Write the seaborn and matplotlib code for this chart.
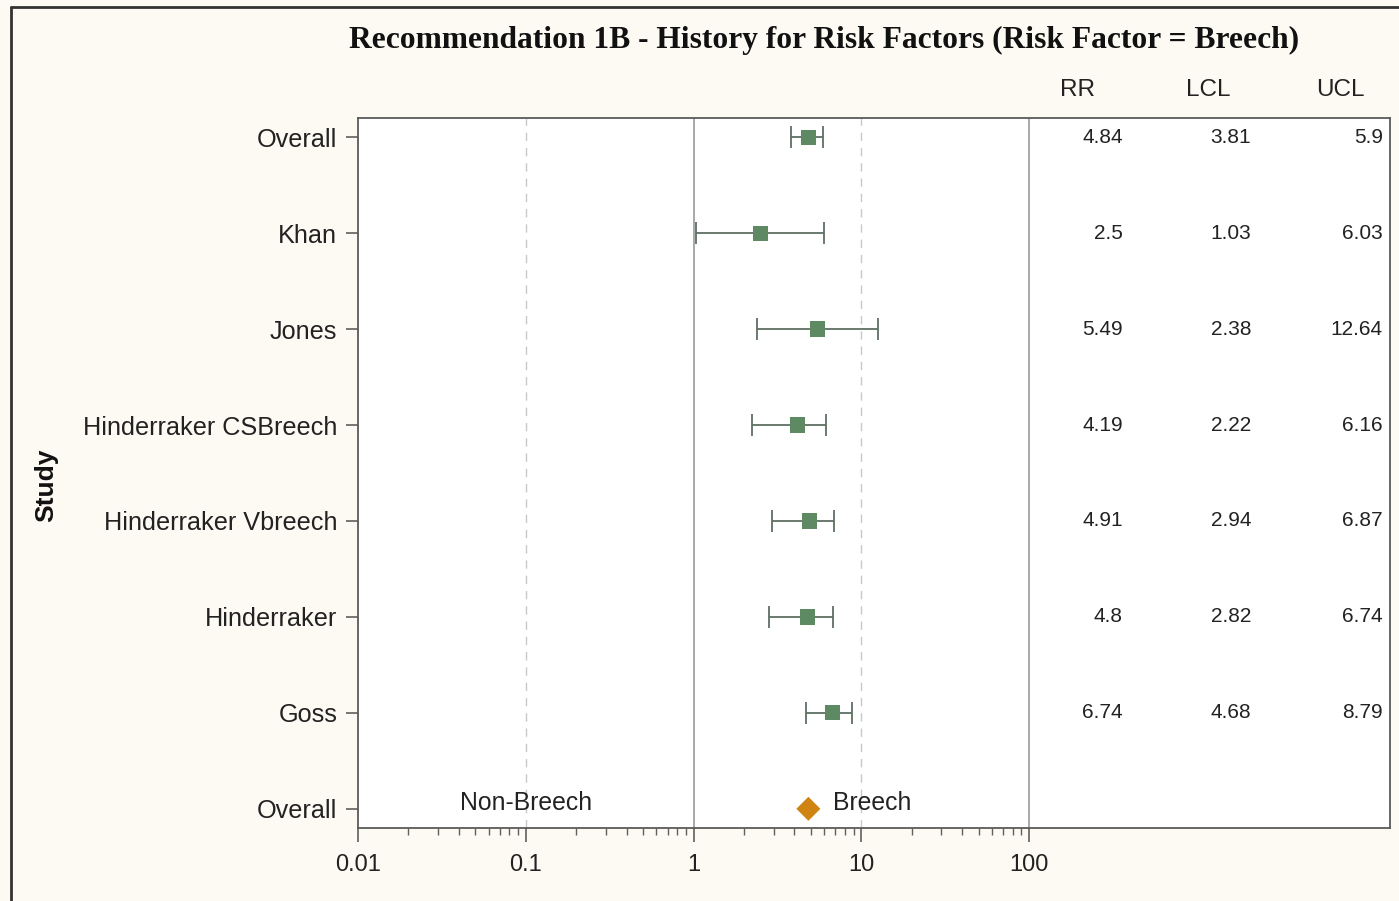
import numpy as np
import pandas as pd
import matplotlib
matplotlib.use("Agg")
import matplotlib.pyplot as plt
from matplotlib.lines import Line2D
from matplotlib.ticker import FixedLocator, NullFormatter
import seaborn as sns

# Study-level risk ratios with 95% confidence limits
studies = ["Overall", "Khan", "Jones", "Hinderraker CSBreech",
           "Hinderraker Vbreech", "Hinderraker", "Goss"]
rr = [4.84, 2.5, 5.49, 4.19, 4.91, 4.8, 6.74]
lcl = [3.81, 1.03, 2.38, 2.22, 2.94, 2.82, 4.68]
ucl = [5.9, 6.03, 12.64, 6.16, 6.87, 6.74, 8.79]
rr_text = ["4.84", "2.5", "5.49", "4.19", "4.91", "4.8", "6.74"]
lcl_text = ["3.81", "1.03", "2.38", "2.22", "2.94", "2.82", "4.68"]
ucl_text = ["5.9", "6.03", "12.64", "6.16", "6.87", "6.74", "8.79"]

summary_label = "Overall"
summary_rr = 4.84
x_ticks = [0.01, 0.1, 1, 10, 100]
x_tick_labels = ["0.01", "0.1", "1", "10", "100"]
col_headers = ["RR", "LCL", "UCL"]

BG = "#fdfaf3"
sns.set_theme(style="white")
plt.rcParams["font.family"] = ["Liberation Sans", "DejaVu Sans"]

df = pd.DataFrame({"study": studies, "rr": rr, "lcl": lcl, "ucl": ucl,
                   "pos": np.arange(len(studies))})

fig = plt.figure(figsize=(13.99, 9.01), dpi=100, facecolor=BG)
ax = fig.add_axes([358 / 1399, 1 - 828 / 901, (1390 - 358) / 1399, (828 - 118) / 901])
ax.set_facecolor("white")
ax.set_xscale("log")
ax.set_xlim(0.01, 10 ** ((1390 - 358) / 167.75 - 2))
ax.set_ylim(len(studies) + 0.2, -0.2)

# reference lines
for v in [1, 100]:
    ax.axvline(v, color="#9a9a9a", lw=1.2, zorder=1)
for v in [0.1, 10]:
    ax.axvline(v, color="#c8c8c8", lw=1.0, ls=(0, (6, 5)), zorder=1)

# confidence intervals
ax.errorbar(df["rr"], df["pos"],
            xerr=[df["rr"] - df["lcl"], df["ucl"] - df["rr"]],
            fmt="none", ecolor="#5f6f62", elinewidth=1.3,
            capsize=8, capthick=1.3, zorder=2)
sns.scatterplot(data=df, x="rr", y="pos", marker="s", s=120,
                color="#5d8a62", edgecolor="none", ax=ax, zorder=3, legend=False)

# pooled estimate row
summary = pd.DataFrame({"rr": [summary_rr], "pos": [len(studies)]})
sns.scatterplot(data=summary, x="rr", y="pos", marker="D", s=150,
                color="#cf8412", edgecolor="none", ax=ax, zorder=3, legend=False)
ax.text(0.1, len(studies) - 0.06, "Non-Breech", ha="center", va="center",
        fontsize=17.8, color="#222222")
ax.annotate("Breech", (summary_rr, len(studies) - 0.06), xytext=(18, 0),
            textcoords="offset points", ha="left", va="center",
            fontsize=17.8, color="#222222")

# y axis
ax.set_yticks(np.arange(len(studies) + 1))
ax.set_yticklabels(studies + [summary_label], fontsize=18.2, color="#222222")
ax.set_ylabel("Study", fontsize=19, fontweight="bold", color="#111111")
ax.yaxis.set_label_coords(-(358 - 58) / 1032, (828 - 485) / 710)

# x axis
ax.xaxis.set_major_locator(FixedLocator(x_ticks))
ax.set_xticklabels(x_tick_labels, fontsize=17, color="#222222")
minor = [m * 10.0 ** e for e in range(-2, 2) for m in range(2, 10)]
ax.xaxis.set_minor_locator(FixedLocator(minor))
ax.xaxis.set_minor_formatter(NullFormatter())
ax.tick_params(axis="x", which="major", direction="out", length=10, width=1.2,
               color="#606060", bottom=True, pad=9)
ax.tick_params(axis="x", which="minor", direction="out", length=5, width=1.0,
               color="#606060", bottom=True)
ax.tick_params(axis="y", which="major", direction="out", length=9, width=1.2,
               color="#606060", left=True, pad=6)
ax.set_xlabel("")

for sp in ax.spines.values():
    sp.set_color("#5a5a5a")
    sp.set_linewidth(1.3)
    sp.set_visible(True)

# statistics table on the right
col_right = [(1123 - 358) / 1032, (1251 - 358) / 1032, (1383 - 358) / 1032]
col_head = [(1077 - 358) / 1032, (1208 - 358) / 1032, (1340 - 358) / 1032]
trans_x = matplotlib.transforms.blended_transform_factory(ax.transAxes, ax.transData)
for xr, values in zip(col_right, [rr_text, lcl_text, ucl_text]):
    for i, t in enumerate(values):
        ax.text(xr, i, t, transform=trans_x, ha="right", va="center",
                fontsize=15, color="#222222")
for xh, h in zip(col_head, col_headers):
    ax.text(xh, (828 - 90) / 710, h, transform=ax.transAxes, ha="center",
            va="center", fontsize=17.5, color="#222222", clip_on=False)

fig.text(824 / 1399, 1 - 40 / 901,
         "Recommendation 1B - History for Risk Factors (Risk Factor = Breech)",
         ha="center", va="center", fontsize=22.7, fontweight="bold",
         family=["Liberation Serif", "DejaVu Serif"], color="#111111")

# outer frame of the graph
fig.add_artist(Line2D([10.5 / 1399, 10.5 / 1399], [0, 1 - 7 / 901],
                      transform=fig.transFigure, color="#333333", lw=2))
fig.add_artist(Line2D([10.5 / 1399, 1], [1 - 7 / 901, 1 - 7 / 901],
                      transform=fig.transFigure, color="#333333", lw=2))

fig.savefig("out.png", dpi=100, facecolor=BG)
